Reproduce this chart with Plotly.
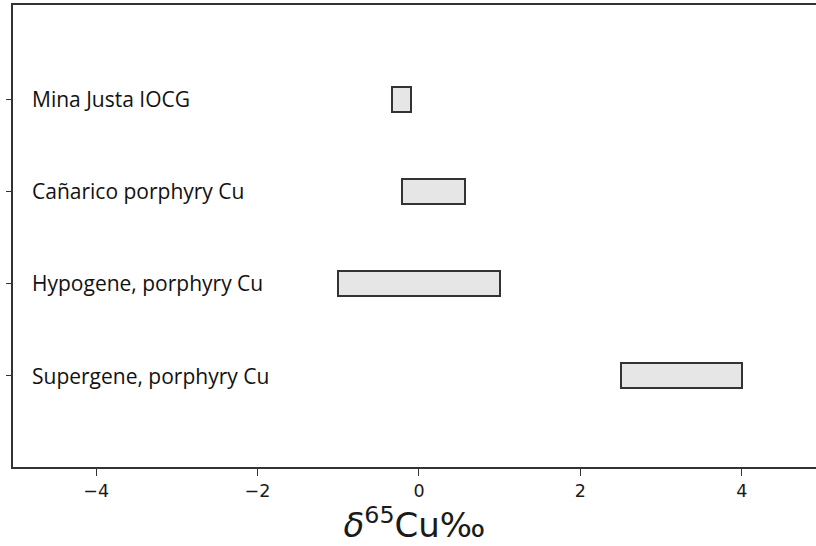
import plotly.graph_objects as go

categories = ["Mina Justa IOCG", "Cañarico porphyry Cu", "Hypogene, porphyry Cu", "Supergene, porphyry Cu"]
y_pos = [3, 2, 1, 0]
range_min = [-0.34, -0.21, -1.0, 2.5]
range_max = [-0.10, 0.57, 1.0, 4.0]
x_ticks = [-4, -2, 0, 2, 4]
x_ticklabels = ["−4", "−2", "0", "2", "4"]

widths = [b - a for a, b in zip(range_min, range_max)]

fig = go.Figure()
fig.add_trace(go.Bar(
    x=widths, base=range_min, y=y_pos, orientation="h", width=0.27,
    marker=dict(color="#e6e6e6", line=dict(color="#333333", width=2)),
    showlegend=False, hoverinfo="skip",
))

for cat, y in zip(categories, y_pos):
    fig.add_annotation(
        x=0, xref="paper", y=y, yref="y", text=cat, showarrow=False,
        xanchor="left", yanchor="middle", xshift=17,
        font=dict(family="Open Sans", size=21, color="#111111"),
    )

fig.update_layout(
    width=816, height=546,
    margin=dict(l=13, r=0, t=5, b=79),
    plot_bgcolor="white", paper_bgcolor="white",
    bargap=0,
)
fig.update_xaxes(
    range=[-5.03, 4.92], tickvals=x_ticks, ticktext=x_ticklabels,
    ticks="outside", ticklen=7, tickwidth=1.2, tickcolor="#333333",
    showline=True, linecolor="#333333", linewidth=1.5, mirror=True,
    showgrid=False, zeroline=False,
    tickfont=dict(family="DejaVu Sans", size=17.5, color="#1a1a1a"),
    title=dict(text="<i>δ</i><sup>65</sup>Cu‰", font=dict(family="DejaVu Sans", size=34, color="#1a1a1a"), standoff=10),
)
fig.update_yaxes(
    range=[-0.99, 4.02], tickvals=y_pos, showticklabels=False,
    ticks="outside", ticklen=5, tickwidth=1.2, tickcolor="#333333",
    showline=True, linecolor="#333333", linewidth=1.5,
    showgrid=False, zeroline=False,
)

fig.write_html("out.html")
